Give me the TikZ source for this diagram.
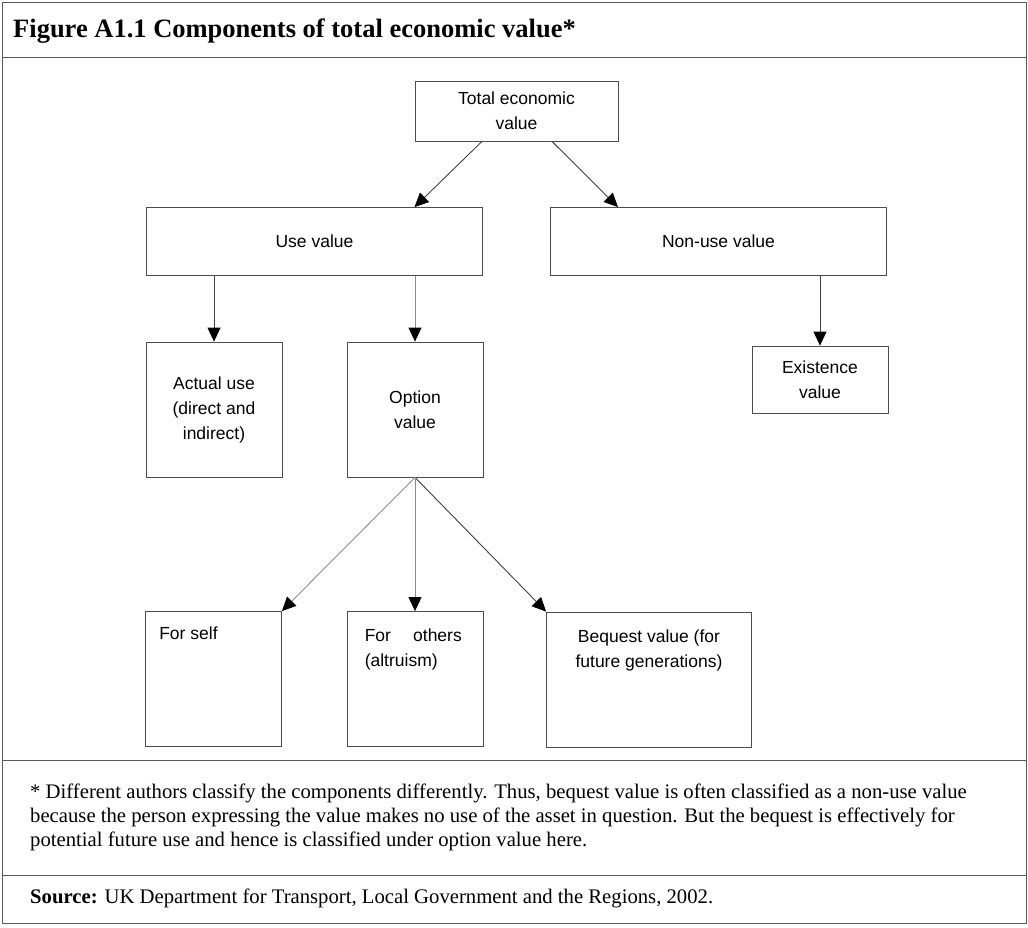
\documentclass[tikz,border=0pt]{standalone}
\usepackage{fontspec}
\setmainfont{Liberation Serif}
\setsansfont{Liberation Sans}
\usetikzlibrary{positioning,calc,arrows.meta}
\tikzset{auto, node distance=130.5pt and 202pt, on grid, semithick,
  box/.style={draw=black!70, line width=0.8pt, inner sep=0pt, align=center,
    font=\sffamily\fontsize{17.5}{25}\selectfont},
  wide/.style={box, minimum width=336pt, minimum height=68pt},
  small/.style={box, minimum width=136pt, minimum height=67pt},
  tall/.style={box, minimum width=136pt, minimum height=135pt},
  toptext/.style={inner sep=0pt, align=left, font=\sffamily\fontsize{17.5}{25}\selectfont},
  conn/.style={line width=0.9pt, black!75, -{Triangle[length=14pt,width=13pt,color=black,fill=black]}},
  faint/.style={conn, black!45},
  rule/.style={line width=0.9pt, black!65},
  note/.style={inner sep=0pt, align=left, font=\fontsize{20.7}{24}\selectfont}}

\begin{document}
\begin{tikzpicture}
\useasboundingbox (0,0) rectangle (1028pt,-928pt);
% frame and rules
\coordinate (tl) at (2pt,-2pt);
\coordinate (br) at (1026pt,-923pt);
\draw[rule] (tl) rectangle (br);
\draw[rule] (2pt,-57pt) -- (1026pt,-57pt);
\draw[rule] (2pt,-760pt) -- (1026pt,-760pt);
\draw[rule] (2pt,-875pt) -- (1026pt,-875pt);

\node[anchor=base west, inner sep=0pt, font=\bfseries\fontsize{26.5}{30}\selectfont] (title) at (13pt,-38pt)
  {Figure A1.1 Components of total economic value*};

% tree
\node[box, minimum width=203pt, minimum height=60pt] (total) at (516.5pt,-111pt) {Total economic\\value};
\node[wide] (use) [below left=of total] {Use value};
\node[wide] (nonuse) [below right=of total] {Non-use value};
\node[tall] (actual) [below left=168pt and 100.5pt of use] {Actual use\\(direct and\\indirect)};
\node[tall] (option) [below right=168pt and 100.5pt of use] {Option\\value};
\node[small] (exist) [below right=138pt and 101.5pt of nonuse] {Existence\\value};
\node[tall, label={[toptext, anchor=north west, xshift=14pt, yshift=-16pt]north west:For self}]
  (self) [below left=269.5pt and 201.5pt of option] {};
\node[tall, label={[toptext, text width=97pt, anchor=north west, xshift=18pt, yshift=-18pt]north west:For \hfill others\\(altruism)}]
  (others) [below=269.5pt of option] {};
\node[tall, minimum width=205pt, label={[toptext, align=center, anchor=north, yshift=-18pt]north:Bequest value (for\\future generations)}]
  (bequest) [below right=270pt and 234pt of option] {};

\path[conn]
  ($(total.south)+(-34.5pt,0)$) edge ($(use.north)+(100pt,0)$)
  ($(total.south)+(35.5pt,0)$) edge ($(nonuse.north)+(-100.5pt,0)$)
  (actual.north |- use.south) edge (actual.north)
  (exist.north |- nonuse.south) edge (exist.north)
  (option.south) edge (bequest.north west);
\path[faint]
  (option.north |- use.south) edge (option.north)
  (option.south) edge (self.north east)
  (option.south) edge (others.north);

% notes
\node[note, anchor=north west] (fn) at (30pt,-784pt)
  {* Different authors classify the components differently. Thus, bequest value is often classified as a non-use value\\
   because the person expressing the value makes no use of the asset in question. But the bequest is effectively for\\
   potential future use and hence is classified under option value here.};
\node[note, anchor=base west] (src) at (30pt,-903pt)
  {\textbf{Source:} UK Department for Transport, Local Government and the Regions, 2002.};
\end{tikzpicture}
\end{document}
